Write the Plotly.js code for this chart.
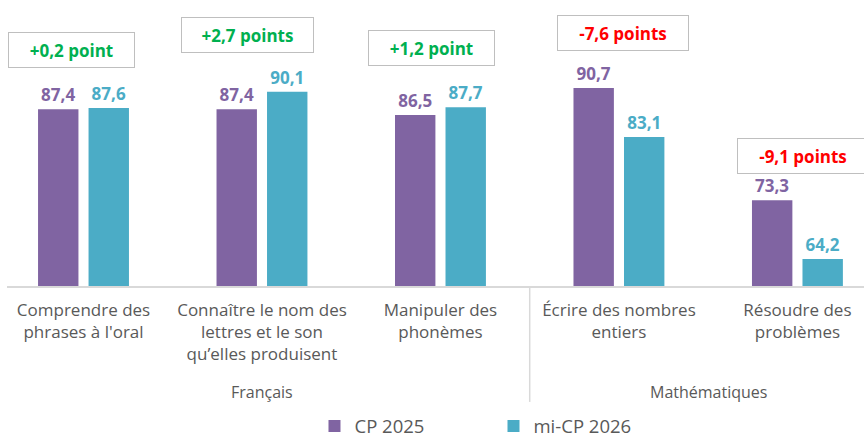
<!DOCTYPE html>
<html>
<head>
<meta charset="utf-8">
<script src="https://cdn.plot.ly/plotly-3.0.1.min.js"></script>
<style>html,body{margin:0;padding:0;background:#fff;}#chart{width:864px;height:440px;}</style>
</head>
<body>
<div id="chart"></div>
<script>
const categories = [
  "Comprendre des<br>phrases à l'oral",
  "Connaître le nom des<br>lettres et le son<br>qu’elles produisent",
  "Manipuler des<br>phonèmes",
  "Écrire des nombres<br>entiers",
  "Résoudre des<br>problèmes"
];
const seriesNames = ["CP 2025", "mi-CP 2026"];
const cp2025 = [87.4, 87.4, 86.5, 90.7, 73.3];
const miCp2026 = [87.6, 90.1, 87.7, 83.1, 64.2];
const diffLabels = ["+0,2 point", "+2,7 points", "+1,2 point", "-7,6 points", "-9,1 points"];
const groupLabels = ["Français", "Mathématiques"];

const FONT = "Open Sans, sans-serif";
const purple = "#8064A2", teal = "#4BACC6";

const traces = [
  {type: "bar", name: seriesNames[0], x: categories, y: cp2025, marker: {color: purple},
   texttemplate: "%{y:.1f}", textposition: "outside", constraintext: "none",
   textfont: {family: FONT, size: 17, color: purple, weight: 700}, hoverinfo: "none"},
  {type: "bar", name: seriesNames[1], x: categories, y: miCp2026, marker: {color: teal},
   texttemplate: "%{y:.1f}", textposition: "outside", constraintext: "none",
   textfont: {family: FONT, size: 17, color: teal, weight: 700}, hoverinfo: "none"}
];

// annotation box placement (data coordinates)
const boxPos = [
  {x: -0.067, y: 96.6, w: 125},
  {x: 1 - 0.081, y: 98.9, w: 131},
  {x: 2 - 0.053, y: 96.9, w: 125},
  {x: 3 + 0.02, y: 99.3, w: 130},
  {x: 4 + 0.03, y: 80.2, w: 130}
];
const annotations = diffLabels.map((t, i) => ({
  x: boxPos[i].x, y: boxPos[i].y, xref: "x", yref: "y", text: "<b>" + t + "</b>",
  showarrow: false, width: boxPos[i].w, height: 34, borderpad: 0,
  bordercolor: "#BFBFBF", borderwidth: 1, bgcolor: "#FFFFFF",
  font: {family: FONT, size: 17, color: (miCp2026[i] - cp2025[i]) >= 0 ? "#00B050" : "#FF0000"}
}));
annotations.push(
  {x: 1, y: -0.384, xref: "x", yref: "paper", yanchor: "middle", text: groupLabels[0], showarrow: false,
   font: {family: FONT, size: 16, color: "#595959"}},
  {x: 3.5, y: -0.384, xref: "x", yref: "paper", yanchor: "middle", text: groupLabels[1], showarrow: false,
   font: {family: FONT, size: 16, color: "#595959"}}
);

const layout = {
  width: 864, height: 440,
  margin: {l: 7, r: 0, t: 10, b: 154, autoexpand: false},
  paper_bgcolor: "#FFFFFF", plot_bgcolor: "#FFFFFF",
  separators: ", ",
  barmode: "group", bargap: 0.434, bargroupgap: 0.2,
  showlegend: true,
  legend: {orientation: "h", x: 0.3588, xanchor: "left", y: -0.44, yanchor: "top",
           font: {family: FONT, size: 18.5, color: "#595959"},
           entrywidth: 134, entrywidthmode: "pixels", traceorder: "normal"},
  xaxis: {type: "category", range: [-0.4286, 4.373], showline: true, linecolor: "#D9D9D9", linewidth: 1.5,
          ticks: "outside", ticklen: 8, tickcolor: "rgba(0,0,0,0)", showgrid: false, zeroline: false,
          tickfont: {family: FONT, size: 17, color: "#595959"}, fixedrange: true},
  yaxis: {range: [60, 102.79], visible: false, showgrid: false, zeroline: false, fixedrange: true},
  shapes: [{type: "line", xref: "x", yref: "paper", x0: 2.5, x1: 2.5, y0: 0, y1: -0.42,
            line: {color: "#D9D9D9", width: 1.5}}],
  annotations: annotations
};

Plotly.newPlot("chart", traces, layout, {displayModeBar: false, staticPlot: true});
</script>
</body>
</html>
